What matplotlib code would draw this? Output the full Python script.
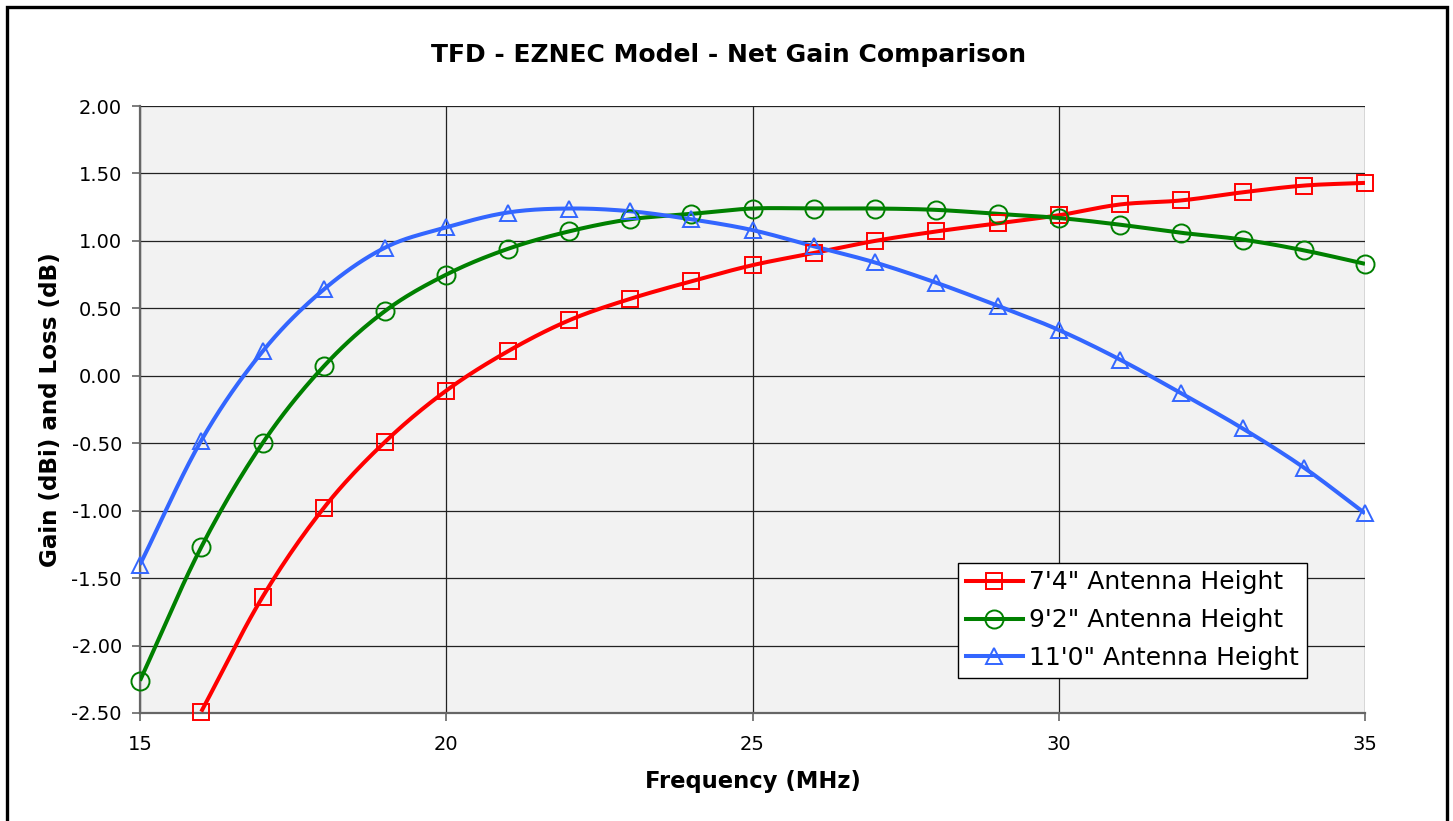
import numpy as np
import matplotlib
matplotlib.use("Agg")
import matplotlib.pyplot as plt
from matplotlib.patches import Rectangle

freq = list(range(15, 36))

# 7'4" series has no point at 15 MHz inside the plot range
freq_74 = freq[1:]
gain_74 = [-2.49, -1.64, -0.98, -0.49, -0.11, 0.18, 0.41, 0.57, 0.70, 0.82,
           0.91, 1.00, 1.07, 1.13, 1.19, 1.27, 1.30, 1.36, 1.41, 1.43]
gain_92 = [-2.26, -1.27, -0.50, 0.07, 0.48, 0.75, 0.94, 1.07, 1.16, 1.20, 1.24,
           1.24, 1.24, 1.23, 1.20, 1.17, 1.12, 1.06, 1.01, 0.93, 0.83]
gain_110 = [-1.40, -0.48, 0.18, 0.64, 0.95, 1.10, 1.21, 1.24, 1.22, 1.16, 1.08,
            0.96, 0.84, 0.69, 0.52, 0.34, 0.12, -0.13, -0.39, -0.68, -1.02]

labels = ["7'4\" Antenna Height", "9'2\" Antenna Height", "11'0\" Antenna Height"]
colors = ["#FF0000", "#008000", "#3366FF"]
markers = ["s", "o", "^"]
msizes = [11, 13, 12]

yticks = np.arange(-2.5, 2.01, 0.5)
xticks = [15, 20, 25, 30, 35]


def smooth(x, y, n=20):
    # catmull-rom style curve through the points, like a spreadsheet "smoothed line"
    x = np.asarray(x, float)
    y = np.asarray(y, float)
    px = np.concatenate([[2 * x[0] - x[1]], x, [2 * x[-1] - x[-2]]])
    py = np.concatenate([[2 * y[0] - y[1]], y, [2 * y[-1] - y[-2]]])
    xs, ys = [], []
    t = np.linspace(0, 1, n, endpoint=False)
    for i in range(1, len(px) - 2):
        for arr, out in ((px, xs), (py, ys)):
            p0, p1, p2, p3 = arr[i - 1], arr[i], arr[i + 1], arr[i + 2]
            out.extend(0.5 * (2 * p1 + (-p0 + p2) * t
                              + (2 * p0 - 5 * p1 + 4 * p2 - p3) * t ** 2
                              + (-p0 + 3 * p1 - 3 * p2 + p3) * t ** 3))
    xs.append(x[-1])
    ys.append(y[-1])
    return xs, ys


W, H = 1453, 821
fig = plt.figure(figsize=(W / 100, H / 100), dpi=100)
fig.patch.set_facecolor("white")
ax = fig.add_axes([140 / W, 1 - 713 / H, 1225 / W, 607 / H])
ax.set_facecolor("#F2F2F2")

series = [(freq_74, gain_74), (freq, gain_92), (freq, gain_110)]
handles = []
for (xv, yv), lab, c, m, ms in zip(series, labels, colors, markers, msizes):
    sx, sy = smooth(xv, yv)
    ax.plot(sx, sy, color=c, lw=2.9, zorder=3, solid_capstyle="butt")
    ax.plot(xv, yv, ls="none", marker=m, ms=ms, mfc="none", mec=c, mew=1.4,
            zorder=4, clip_on=False)
    h, = ax.plot([], [], color=c, lw=2.9, marker=m, ms=ms, mfc="none", mec=c, mew=1.4)
    handles.append(h)

ax.set_xlim(15, 35)
ax.set_ylim(-2.5, 2.0)
ax.set_xticks(xticks)
ax.set_yticks(yticks)
ax.set_yticklabels([f"{v:.2f}" for v in yticks])
ax.grid(True, color="#222222", lw=0.9)
ax.set_axisbelow(True)
for s in ["top", "right"]:
    ax.spines[s].set_visible(False)
for s in ["left", "bottom"]:
    ax.spines[s].set_color("#666666")
    ax.spines[s].set_linewidth(1.6)
ax.tick_params(direction="out", length=6, width=1.2, color="#666666",
               labelsize=14, pad=7)
ax.tick_params(axis="x", pad=10)

ax.set_xlabel("Frequency (MHz)", fontsize=16.3, fontweight="bold", labelpad=11)
ax.set_ylabel("Gain (dBi) and Loss (dB)", fontsize=16.6, fontweight="bold", labelpad=7)
fig.text(729 / W, 1 - 55 / H, "TFD - EZNEC Model - Net Gain Comparison",
         ha="center", va="center", fontsize=18, fontweight="bold")

leg = fig.legend(handles, labels, loc="upper left",
                 bbox_to_anchor=(958 / W, 1 - 563 / H), bbox_transform=fig.transFigure,
                 fontsize=18, frameon=True, fancybox=False, borderaxespad=0,
                 borderpad=0.3, handlelength=2.3, handletextpad=0.25,
                 labelspacing=0.55)
leg.get_frame().set_edgecolor("black")
leg.get_frame().set_linewidth(1.0)
leg.get_frame().set_facecolor("white")
leg.get_frame().set_alpha(1)

# outer chart border (bottom edge falls off the picture)
fig.patches.append(Rectangle((6.5 / W, -0.05), 1440 / W, 1.05 - 7.5 / H,
                             transform=fig.transFigure, fill=False,
                             edgecolor="black", lw=2.4))

fig.savefig("out.png", dpi=100, facecolor="white")
